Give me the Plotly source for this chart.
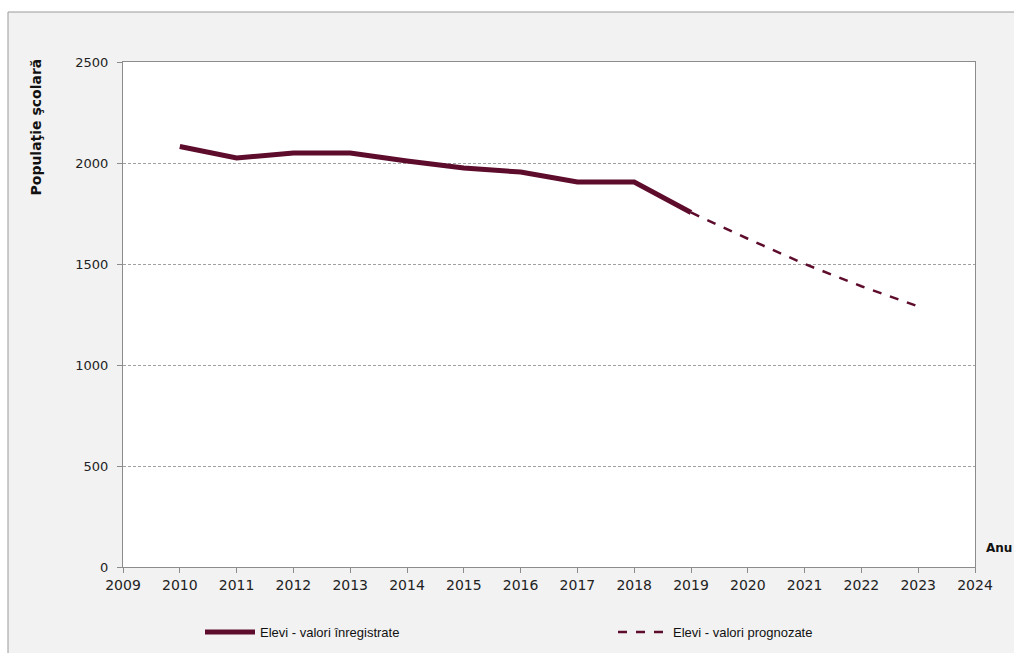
import plotly.graph_objects as go

years_recorded = [2010, 2011, 2012, 2013, 2014, 2015, 2016, 2017, 2018, 2019]
values_recorded = [2082, 2025, 2050, 2050, 2010, 1975, 1955, 1906, 1906, 1755]
years_forecast = [2019, 2020, 2021, 2022, 2023]
values_forecast = [1755, 1625, 1500, 1390, 1290]
x_ticks = list(range(2009, 2025))
y_ticks = [0, 500, 1000, 1500, 2000, 2500]

line_color = "#5e0c2c"
base_font = "DejaVu Sans, Verdana, sans-serif"

fig = go.Figure()
fig.add_trace(go.Scatter(
    x=years_recorded, y=values_recorded, mode="lines",
    name="Elevi - valori înregistrate",
    line=dict(color=line_color, width=5), legend="legend"))
fig.add_trace(go.Scatter(
    x=years_forecast, y=values_forecast, mode="lines",
    name="Elevi - valori prognozate",
    line=dict(color=line_color, width=2.5, dash="dash"), legend="legend2"))

W, H = 1014, 653
L, R, T, B = 123, 39, 62, 86
pw, ph = W - L - R, H - T - B

def px(x):
    return (x - L) / pw

def py(y):
    return (H - B - y) / ph

legend_font = dict(family="Liberation Sans Narrow, Arial Narrow, Liberation Sans, sans-serif",
                   size=13, color="#111111")
frame_line = "#9a9a9a"

fig.update_layout(
    width=W, height=H,
    margin=dict(l=L, r=R, t=T, b=B, autoexpand=False),
    paper_bgcolor="#f2f2f2",
    plot_bgcolor="white",
    showlegend=True,
    legend=dict(x=px(200), y=py(632), xanchor="left", yanchor="middle",
                bgcolor="rgba(0,0,0,0)", font=legend_font, itemwidth=50),
    legend2=dict(x=px(613), y=py(632), xanchor="left", yanchor="middle",
                 bgcolor="rgba(0,0,0,0)", font=legend_font, itemwidth=50),
    xaxis=dict(range=[2009, 2024], tickmode="array", tickvals=x_ticks,
               ticktext=[str(v) for v in x_ticks],
               showgrid=False, zeroline=False, showline=True, linecolor="#8c8c8c",
               linewidth=1, mirror=True, ticks="outside", ticklen=5,
               tickcolor="#8c8c8c",
               tickfont=dict(family=base_font, size=14, color="#222222")),
    yaxis=dict(range=[0, 2500], tickmode="array", tickvals=y_ticks,
               showgrid=True, gridcolor="#a0a0a0", griddash="3px,2px", gridwidth=1,
               zeroline=False, showline=True, linecolor="#8c8c8c", linewidth=1,
               mirror=True, ticks="outside", ticklen=5, tickcolor="#8c8c8c",
               ticklabelstandoff=6,
               tickfont=dict(family=base_font, size=13, color="#222222")),
    shapes=[
        dict(type="rect", xref="paper", yref="paper",
             x0=px(-5), x1=px(1030), y0=py(12), y1=py(-5),
             fillcolor="white", line=dict(width=0), layer="above"),
        dict(type="rect", xref="paper", yref="paper",
             x0=px(-5), x1=px(8), y0=py(670), y1=py(-5),
             fillcolor="white", line=dict(width=0), layer="above"),
        dict(type="line", xref="paper", yref="paper",
             x0=px(8), x1=px(1030), y0=py(12), y1=py(12),
             line=dict(color=frame_line, width=1), layer="above"),
        dict(type="line", xref="paper", yref="paper",
             x0=px(8), x1=px(8), y0=py(12), y1=py(670),
             line=dict(color=frame_line, width=1), layer="above"),
    ],
    annotations=[
        dict(text="<b>Anu</b>", xref="paper", yref="paper", x=px(984), y=py(548),
             xanchor="left", yanchor="middle", showarrow=False,
             font=dict(family=base_font, size=12, color="#111111")),
        dict(text="<b>Populaţie şcolară</b>", xref="paper", yref="paper",
             x=px(35), y=py(57), xanchor="center", yanchor="top", textangle=-90,
             showarrow=False,
             font=dict(family=base_font, size=14, color="#111111")),
    ],
)

fig.write_html("out.html", config={"displayModeBar": False},
               post_script="document.body.style.margin='0';")
